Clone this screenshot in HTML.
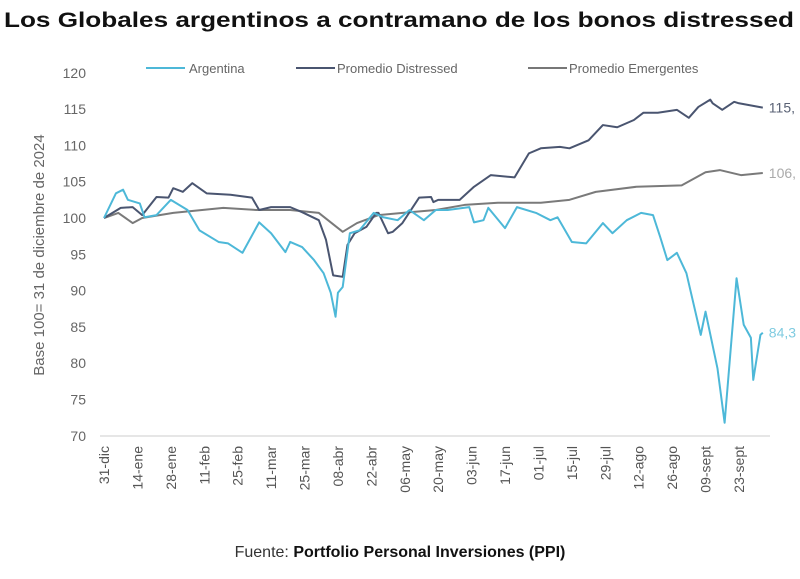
<!DOCTYPE html>
<html><head><meta charset="utf-8"><style>
body{margin:0;background:#fff;width:800px;height:574px;overflow:hidden;font-family:"Liberation Sans",sans-serif}
</style></head><body>
<svg id="chart" width="800" height="574" xmlns="http://www.w3.org/2000/svg">
<text x="4" y="27" font-size="21" font-weight="bold" fill="#111" font-family="Liberation Sans, sans-serif" textLength="790" lengthAdjust="spacingAndGlyphs">Los Globales argentinos a contramano de los bonos distressed</text>
<g id="legend" font-size="13" fill="#666">
<line x1="146" y1="68" x2="185" y2="68" stroke="#4db8d8" stroke-width="2"/>
<text x="189" y="73">Argentina</text>
<line x1="296" y1="68" x2="335" y2="68" stroke="#4a5570" stroke-width="2"/>
<text x="337" y="73">Promedio Distressed</text>
<line x1="528" y1="68" x2="567" y2="68" stroke="#777" stroke-width="2"/>
<text x="569" y="73">Promedio Emergentes</text>
</g>
<text transform="translate(44,255) rotate(-90)" text-anchor="middle" font-size="15" fill="#666">Base 100= 31 de diciembre de 2024</text>
<line x1="100" y1="436" x2="770" y2="436" stroke="#ddd" stroke-width="1.5"/>
<g id="yticks"></g><g id="xticks"></g><g id="series"></g>
<text x="400" y="557" text-anchor="middle" font-size="16" fill="#333">Fuente: <tspan font-weight="bold" fill="#111">Portfolio Personal Inversiones (PPI)</tspan></text>
</svg>
<script>
const yTicks=[70,75,80,85,90,95,100,105,110,115,120];
const xLabels=["31-dic","14-ene","28-ene","11-feb","25-feb","11-mar","25-mar","08-abr","22-abr","06-may","20-may","03-jun","17-jun","01-jul","15-jul","29-jul","12-ago","26-ago","09-sept","23-sept"];
const argDays=[0,5,8,10,15,17,22,28,35,40,48,52,58,65,70,76,78,83,88,92,95,97,98,100,103,107,113,117,123,128,134,139,144,153,155,159,161,168,173,181,187,190,196,202,209,213,219,225,230,233,236,240,244,250,252,257,260,265,268,271,272,275,276];
const argVals=[100,103.4,103.9,102.5,102,100.1,100.4,102.5,101.1,98.3,96.7,96.5,95.2,99.4,97.9,95.3,96.7,96,94.2,92.4,89.7,86.4,89.7,90.5,97.9,98.3,100.7,100.1,99.7,101.1,99.7,101.1,101.1,101.5,99.4,99.7,101.4,98.6,101.5,100.7,99.7,100.1,96.7,96.5,99.3,97.9,99.7,100.7,100.4,97.4,94.2,95.2,92.4,83.9,87.1,79.3,71.8,91.7,85.3,83.5,77.7,83.9,84.2];
const disDays=[0,7,12,16,22,27,29,33,37,43,53,62,65,70,78,83,90,93,96,100,102,105,110,114,115,119,121,125,132,137,138,140,149,155,162,172,178,183,191,195,203,209,215,222,226,232,232,240,245,249,254,255,259,264,266,276];
const disVals=[100,101.4,101.5,100.4,102.9,102.8,104.1,103.6,104.8,103.4,103.2,102.8,101.1,101.5,101.5,100.8,99.7,97,92.1,91.9,96.3,97.9,98.8,100.7,100.7,97.9,98.1,99.3,102.8,102.9,102.2,102.5,102.5,104.3,105.9,105.6,108.9,109.6,109.8,109.6,110.7,112.8,112.5,113.5,114.5,114.5,114.5,114.9,113.8,115.3,116.3,115.8,114.9,116,115.8,115.2];
const emeDays=[0,6,12,16,29,50,64,78,90,100,106,115,128,139,151,165,183,195,206,223,242,252,258,267,276];
const emeVals=[100,100.7,99.3,100,100.7,101.4,101.1,101.1,100.7,98.1,99.3,100.4,100.8,101.1,101.8,102.1,102.1,102.5,103.6,104.3,104.5,106.3,106.6,105.9,106.2];
const endLabels=["115,","106,","84,3"];
const NS="http://www.w3.org/2000/svg";
const y=v=>218-(v-100)*7.26;
const x=d=>104+d*2.387;
const yg=document.getElementById('yticks');
yTicks.forEach(v=>{const t=document.createElementNS(NS,'text');


t.setAttribute('x',86);t.setAttribute('y',y(v)+5);t.setAttribute('text-anchor','end');t.setAttribute('font-size','14');t.setAttribute('fill','#666');t.textContent=v;yg.appendChild(t);});
const xg=document.getElementById('xticks');
xLabels.forEach((l,i)=>{const t=document.createElementNS(NS,'text');


const px=x(i*14)+5;t.setAttribute('transform',`translate(${px},446) rotate(-90)`);t.setAttribute('text-anchor','end');t.setAttribute('font-size','14');t.setAttribute('fill','#555');t.textContent=l;xg.appendChild(t);});
const sg=document.getElementById('series');
[[emeDays,emeVals,'#7a7a7a','series-emergentes'],[disDays,disVals,'#4a5570','series-distressed'],[argDays,argVals,'#4db8d8','series-argentina']].forEach(([d,v,c,n],k)=>{
const p=document.createElementNS(NS,'polyline');


p.setAttribute('points',d.map((dd,i)=>x(dd)+','+y(v[i])).join(' '));p.setAttribute('fill','none');p.setAttribute('stroke',c);p.setAttribute('stroke-width','2');p.setAttribute('stroke-linejoin','round');sg.appendChild(p);
});
[[disDays,disVals,'#5a6275'],[emeDays,emeVals,'#aaa'],[argDays,argVals,'#7fcbe0']].forEach(([d,v,c],k)=>{
const t=document.createElementNS(NS,'text');


t.setAttribute('x',x(d[d.length-1])+6);t.setAttribute('y',y(v[v.length-1])+5);t.setAttribute('font-size','14');t.setAttribute('fill',c);t.textContent=endLabels[k];sg.appendChild(t);});
</script>
</body></html>
